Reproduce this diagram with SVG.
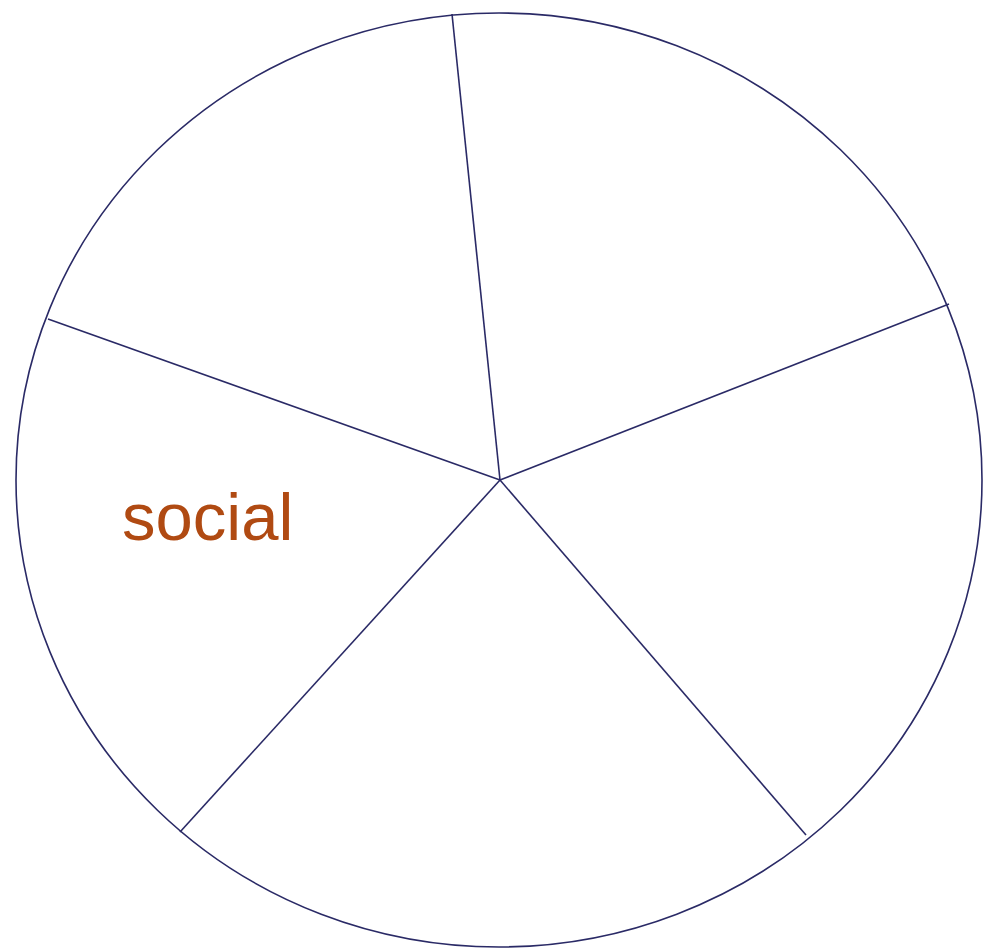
<svg xmlns="http://www.w3.org/2000/svg" width="983" height="950" viewBox="0 0 983 950">
<style>
.ln{fill:none;stroke:#2a2a66;stroke-width:1.6}
.lbl{font-family:"Liberation Sans",Arial,sans-serif;font-size:67px;fill:#b04a12}
</style>
<rect width="983" height="950" fill="#fff"/>
<g id="wheel">
<ellipse class="ln" cx="499" cy="480" rx="483" ry="467"/>
</g>
<g id="connectors">
<line class="ln" x1="500" y1="480" x2="452" y2="14"/>
<line class="ln" x1="500" y1="480" x2="949" y2="304"/>
<line class="ln" x1="500" y1="480" x2="806" y2="835"/>
<line class="ln" x1="500" y1="480" x2="180" y2="832"/>
<line class="ln" x1="500" y1="480" x2="48" y2="319"/>
</g>
<g id="social">
<text class="lbl" x="122" y="540">social</text>
</g>
</svg>
